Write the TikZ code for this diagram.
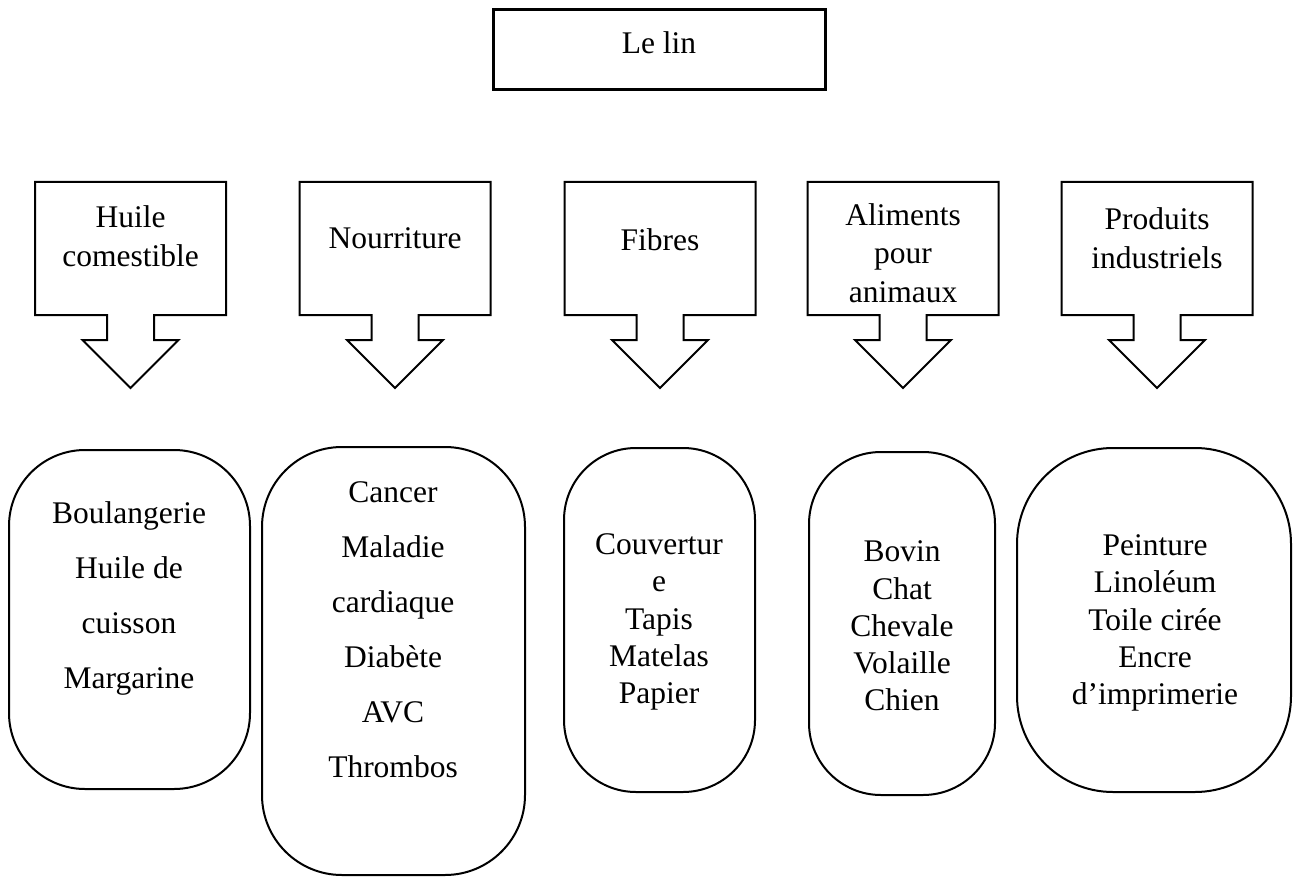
\documentclass[tikz,border=0pt]{standalone}
\usepackage{fontspec}
\setmainfont{Liberation Serif}
\begin{document}
\begin{tikzpicture}[x=0.5pt,y=-0.5pt,
  outline/.style={draw,line width=1pt,line join=miter},
  rbox/.style={draw,line width=1pt},
  lbl/.style={align=center,inner sep=0pt,font=\fontsize{15.75}{19.3}\selectfont},
  wide/.style={align=center,inner sep=0pt,font=\fontsize{15.75}{27.5}\selectfont},
  tight/.style={align=center,inner sep=0pt,font=\fontsize{15.75}{18.6}\selectfont}]
\useasboundingbox (0,0) rectangle (1294,877);

% title
\draw[line width=1.5pt] (493,10) rectangle (825,90);
\node[lbl] (title) at (659,43) {Le lin};

% callouts
\foreach \cx in {130.5,395,660,903,1157}{
  \draw[outline] (\cx-95.5,182) -- (\cx+95.5,182) -- (\cx+95.5,315) -- (\cx+23.5,315)
    -- (\cx+23.5,340) -- (\cx+48,340) -- (\cx,388) -- (\cx-48,340) -- (\cx-23.5,340)
    -- (\cx-23.5,315) -- (\cx-95.5,315) -- cycle;
}
\node[lbl] (c1) at (130.5,236) {Huile\\comestible};
\node[lbl] (c2) at (395,238) {Nourriture};
\node[lbl] (c3) at (660,240) {Fibres};
\node[lbl] (c4) at (903,253) {Aliments\\pour\\animaux};
\node[lbl] (c5) at (1157,238) {Produits\\industriels};

% bottom boxes
\draw[rbox,rounded corners=38] (9,450) rectangle (250,789);
\draw[rbox,rounded corners=40] (262,447) rectangle (525,875);
\draw[rbox,rounded corners=36] (564,448) rectangle (755,792);
\draw[rbox,rounded corners=36] (809,452) rectangle (995,795);
\draw[rbox,rounded corners=48] (1017,448) rectangle (1291,792);

\node[wide] (b1) at (129,598) {Boulangerie\\Huile de\\cuisson\\Margarine};
\node[wide] (b2) at (393,630) {Cancer\\Maladie\\cardiaque\\Diabète\\AVC\\Thrombos};
\node[tight] (b3) at (659,622) {Couvertur\\e\\Tapis\\Matelas\\Papier};
\node[tight] (b4) at (902,626) {Bovin\\Chat\\Chevale\\Volaille\\Chien};
\node[tight] (b5) at (1155,623) {Peinture\\Linoléum\\Toile cirée\\Encre\\d’imprimerie};
\end{tikzpicture}
\end{document}
